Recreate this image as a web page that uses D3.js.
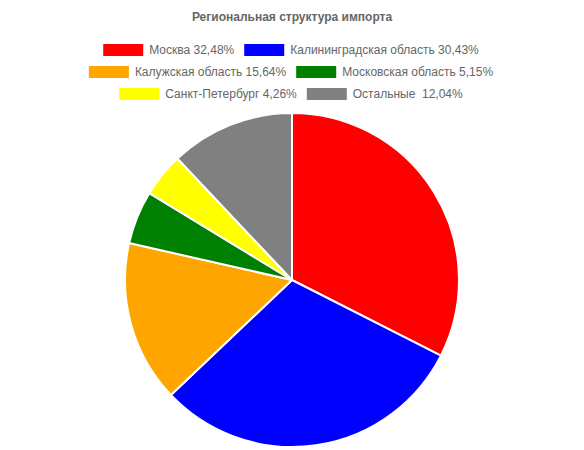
<!DOCTYPE html>
<html>
<head>
<meta charset="utf-8">
<script src="https://cdn.jsdelivr.net/npm/d3@7"></script>
<style>
  html, body { margin: 0; padding: 0; background: #fff; }
  svg { display: block; }
  text { font-family: "Helvetica Neue", Helvetica, Arial, "Liberation Sans", sans-serif; fill: #666; white-space: pre; }
</style>
</head>
<body>
<svg id="chart" width="584" height="450"></svg>
<script>
// Regional import structure, shares in percent
const regions = ["Москва", "Калининградская область", "Калужская область", "Московская область", "Санкт-Петербург", "Остальные "];
const shares = [32.48, 30.43, 15.64, 5.15, 4.26, 12.04];
const shareLabels = ["32,48%", "30,43%", "15,64%", "5,15%", "4,26%", "12,04%"];
const colors = ["#ff0000", "#0000ff", "#ffa500", "#008000", "#ffff00", "#808080"];
const title = "Региональная структура импорта";

const W = 584, H = 450;
const svg = d3.select("#chart");

// Title
svg.append("text")
  .attr("x", 292).attr("y", 21)
  .attr("text-anchor", "middle")
  .style("font-size", "12px").style("font-weight", "bold")
  .text(title);

// Legend: items flow into centred rows like a canvas legend
const boxW = 40, boxH = 12, fontSize = 12, pad = 10, rowGap = 22, firstBoxTop = 44;
const legend = svg.append("g");
const items = regions.map((r, i) => {
  const g = legend.append("g");
  g.append("rect").attr("width", boxW).attr("height", boxH).attr("fill", colors[i]);
  const t = g.append("text")
    .attr("x", boxW + fontSize / 2).attr("y", boxH / 2 + 4)
    .attr("xml:space", "preserve")
    .style("font-size", fontSize + "px")
    .text(r + " " + shareLabels[i]);
  const w = boxW + fontSize / 2 + t.node().getComputedTextLength();
  return { g, w };
});

const rows = [[]];
let lineW = 0;
items.forEach(it => {
  if (lineW + it.w + pad > W && rows[rows.length - 1].length) { rows.push([]); lineW = 0; }
  rows[rows.length - 1].push(it);
  lineW += it.w + pad;
});
rows.forEach((row, ri) => {
  const total = d3.sum(row, d => d.w) + pad * (row.length - 1);
  let x = 291 - total / 2;
  row.forEach(it => {
    it.g.attr("transform", `translate(${x},${firstBoxTop + ri * rowGap})`);
    x += it.w + pad;
  });
});

// Pie
const cx = 292, cy = 280, r = 167;
const pie = d3.pie().sort(null).value(d => d);
const arc = d3.arc().innerRadius(0).outerRadius(r);
svg.append("g").attr("transform", `translate(${cx},${cy})`)
  .selectAll("path")
  .data(pie(shares))
  .join("path")
  .attr("d", arc)
  .attr("fill", (d, i) => colors[i])
  .attr("stroke", "#fff")
  .attr("stroke-width", 2)
  .attr("stroke-linejoin", "round");
</script>
</body>
</html>
